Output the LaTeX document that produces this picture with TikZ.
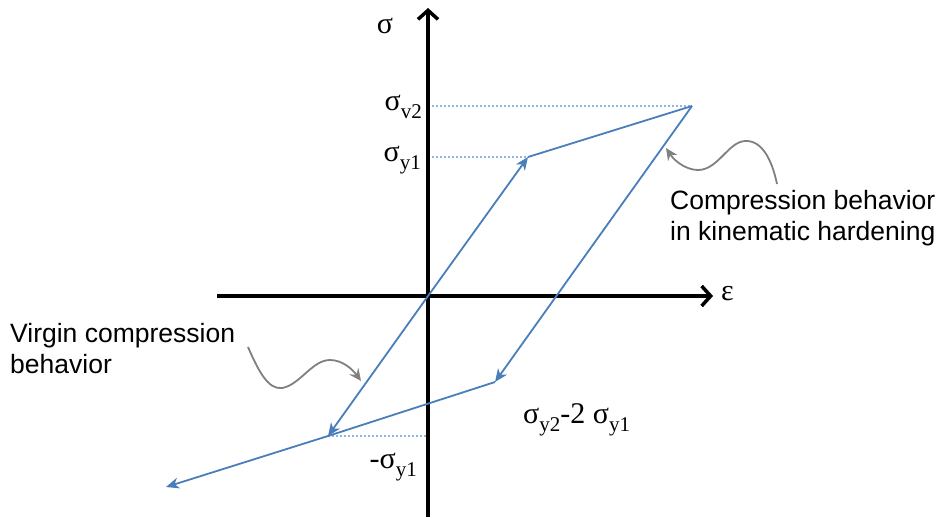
\documentclass[tikz,border=0pt]{standalone}
\usepackage{fontspec}
\setmainfont{Liberation Sans}
\newfontfamily\serifgr{Liberation Serif}
\usetikzlibrary{arrows.meta}
\definecolor{curveblue}{HTML}{4A7EBB}
\definecolor{dotblue}{HTML}{8DB4E2}
\definecolor{callgray}{HTML}{808080}
\newcommand{\sublab}[2]{{\serifgr\fontsize{30}{30}\selectfont #1\raisebox{-8.5pt}{\fontsize{21}{21}\selectfont #2}}}
\begin{document}
\begin{tikzpicture}[x=1pt,y=-1pt,
  axis/.style={line width=3.5pt,-{Straight Barb[length=9pt,width=20pt,line width=3.5pt]}},
  curve/.style={curveblue,line width=1.8pt},
  curvearr/.style={curve,-{Stealth[length=13pt,width=11pt,inset=4pt]}},
  guide/.style={dotblue,line width=1.5pt,dash pattern=on 2pt off 2pt},
  callout/.style={callgray,line width=1.8pt,-{Stealth[length=12pt,width=11pt,inset=4pt]}},
  greek/.style={inner sep=0pt,font=\serifgr\fontsize{30}{30}\selectfont},
  note/.style={inner sep=0pt,align=left,font=\fontsize{26.5}{31}\selectfont}]
\useasboundingbox (0,0) rectangle (941,517);
% points
\coordinate (O) at (428,296);
\coordinate (A) at (528,157);
\coordinate (B) at (692,106);
\coordinate (C) at (495,382);
\coordinate (D) at (328,436);
\coordinate (E) at (166,487);
\coordinate (ybot) at (428,517);
\coordinate (ytop) at (428,8);
\coordinate (xleft) at (217,296);
\coordinate (xright) at (713,296);
\coordinate (Y2) at (428,106);
\coordinate (Y1) at (428,157);
\coordinate (Ym) at (428,436);
% guides
\draw[guide] (Y2) -- (B);
\draw[guide] (Y1) -- (A);
\draw[guide] (D) -- (Ym);
% axes
\draw[axis] (ybot) -- (ytop);
\draw[axis] (xleft) -- (xright);
% curve
\draw[curvearr] (O) -- (A);
\draw[curve] (A) -- (B);
\draw[curvearr] (B) -- (C);
\draw[curve] (C) -- (D);
\draw[curvearr] (O) -- (D);
\draw[curvearr] (D) -- (E);
% labels
\node[greek,anchor=base] (sig) at (385,33) {σ};
\node[greek,anchor=base west] (eps) at (721,300) {ε};
\node[inner sep=0pt,anchor=base east] (lv2) at (422,110) {\sublab{σ}{v2}};
\node[inner sep=0pt,anchor=base east] (ly1) at (421,161) {\sublab{σ}{y1}};
\node[inner sep=0pt,anchor=base east] (lmy1) at (417,468) {\sublab{-σ}{y1}};
\node[inner sep=0pt,anchor=base west] (ldiff) at (523,423) {\sublab{σ}{y2}\sublab{-2 σ}{y1}};
% notes
\node[note,anchor=north west] (n1) at (10,323) {Virgin compression\\behavior};
\node[note,anchor=north west] (n2) at (670,190) {Compression behavior\\in kinematic hardening};
% callouts
\coordinate (c1s) at (777,184);
\coordinate (c1t) at (666,148);
\coordinate (c2s) at (248,347);
\coordinate (c2t) at (361,381);
\draw[callout] (c1s) .. controls (772,160) and (762,140) .. (745,141)
  .. controls (728,142) and (718,170) .. (698,170)
  .. controls (688,170) and (676,163) .. (c1t);
\draw[callout] (c2s) .. controls (258,370) and (268,390) .. (282,388)
  .. controls (300,385) and (312,360) .. (330,360)
  .. controls (343,360) and (353,370) .. (c2t);
\end{tikzpicture}
\end{document}
